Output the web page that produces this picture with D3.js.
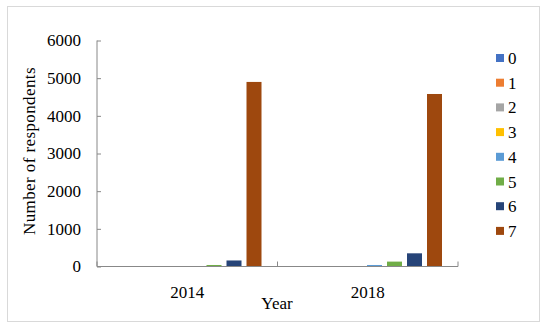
<!DOCTYPE html>
<html>
<head>
<meta charset="utf-8">
<script src="https://cdn.jsdelivr.net/npm/d3@7"></script>
<style>
  body { margin: 0; background: #fff; }
  text { font-family: "Liberation Serif", "DejaVu Serif", serif; fill: #000; }
</style>
</head>
<body>
<svg id="chart"></svg>
<script>
//Chart data
let years = ['2014', '2018'];
let seriesNames = ['0', '1', '2', '3', '4', '5', '6', '7'];
let values2014 = [5, 5, 5, 2, 10, 40, 160, 4900];
let values2018 = [3, 3, 3, 2, 40, 130, 350, 4580];
let yTicks = [0, 1000, 2000, 3000, 4000, 5000, 6000];
let colors = ['#4472C4', '#ED7D31', '#A5A5A5', '#FFC000', '#5B9BD5', '#70AD47', '#264478', '#9E480E'];

let table = years.map((y, i) => ({
  year: y,
  values: i === 0 ? values2014 : values2018
}));

//Canvas
let width = 550;
let height = 327;
let plot = { left: 97, right: 458, top: 40.5, bottom: 266.5 };
let fontSize = '17px';

let svg = d3.select('#chart')
  .attr('width', width)
  .attr('height', height);

//Chart border
svg.append('rect')
  .attr('x', 7.5).attr('y', 6.5)
  .attr('width', 532).attr('height', 315)
  .attr('fill', 'none')
  .attr('stroke', '#d9d9d9');

//Scales
let xScale = d3.scaleBand()
  .domain(years)
  .range([plot.left, plot.right]);

let xInner = d3.scaleBand()
  .domain(seriesNames)
  .range([9.5, 164.5])
  .paddingInner(0.25);

let yScale = d3.scaleLinear()
  .domain([0, 6000])
  .range([plot.bottom, plot.top]);

//Bars
let groups = svg.selectAll('.group')
  .data(table)
  .enter()
  .append('g')
  .attr('class', 'group')
  .attr('transform', (d) => 'translate(' + xScale(d.year) + ',0)');

groups.selectAll('rect')
  .data((d) => d.values.map((v, i) => ({ name: seriesNames[i], value: v })))
  .enter()
  .append('rect')
  .attr('x', (d) => xInner(d.name))
  .attr('width', xInner.bandwidth())
  .attr('y', (d) => yScale(d.value))
  .attr('height', (d) => plot.bottom - yScale(d.value))
  .attr('fill', (d, i) => colors[i]);

//Y axis
let yAxis = d3.axisLeft(yScale)
  .tickValues(yTicks)
  .tickSize(-4)
  .tickPadding(16)
  .tickFormat(d3.format('d'));

let yG = svg.append('g')
  .attr('transform', 'translate(' + plot.left + ',0)')
  .call(yAxis);
yG.selectAll('line, path').attr('stroke', '#888');
yG.select('.domain').attr('d', 'M0,' + plot.top + 'V' + plot.bottom);
yG.selectAll('text')
  .style('font-size', fontSize)
  .style('font-family', '"Liberation Serif", serif');

//X axis
let xAxis = d3.axisBottom(xScale)
  .tickSize(0)
  .tickPadding(19);

let xG = svg.append('g')
  .attr('transform', 'translate(0,' + plot.bottom + ')')
  .call(xAxis);
xG.selectAll('path').attr('stroke', '#888').attr('d', 'M' + plot.left + ',0H' + plot.right);
xG.selectAll('text')
  .style('font-size', fontSize)
  .style('font-family', '"Liberation Serif", serif');

//Category separators
let separators = [plot.left, xScale(years[1]), plot.right];
svg.selectAll('.sep')
  .data(separators)
  .enter()
  .append('line')
  .attr('class', 'sep')
  .attr('x1', (d) => d).attr('x2', (d) => d)
  .attr('y1', plot.bottom).attr('y2', plot.bottom - 5)
  .attr('stroke', '#888');

//Axis titles
svg.append('text')
  .attr('x', 277)
  .attr('y', 309)
  .attr('text-anchor', 'middle')
  .style('font-size', fontSize)
  .text('Year');

svg.append('text')
  .attr('transform', 'rotate(-90)')
  .attr('x', -151)
  .attr('y', 35)
  .attr('text-anchor', 'middle')
  .style('font-size', fontSize)
  .style('letter-spacing', '0.4px')
  .text('Number of respondents');

//Legend
let legend = svg.selectAll('.legend')
  .data(seriesNames)
  .enter()
  .append('g')
  .attr('class', 'legend')
  .attr('transform', (d, i) => 'translate(496,' + (58 + i * 24.7) + ')');

legend.append('rect')
  .attr('x', 0).attr('y', -4)
  .attr('width', 8).attr('height', 8)
  .attr('fill', (d, i) => colors[i]);

legend.append('text')
  .attr('x', 12)
  .attr('y', 6)
  .style('font-size', fontSize)
  .text((d) => d);
</script>
</body>
</html>
